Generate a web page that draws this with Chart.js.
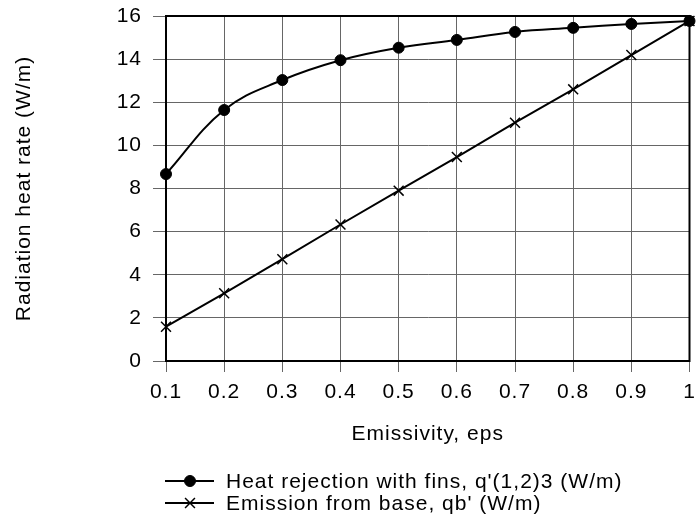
<!DOCTYPE html>
<html>
<head>
<meta charset="utf-8">
<script src="https://cdn.jsdelivr.net/npm/chart.js@4/dist/chart.umd.min.js"></script>
<style>
  html, body { margin: 0; padding: 0; background: #fff; }
  canvas { display: block; }
</style>
</head>
<body>
<canvas id="c" width="698" height="523"></canvas>
<script>
const emissivity = [0.1, 0.2, 0.3, 0.4, 0.5, 0.6, 0.7, 0.8, 0.9, 1.0];
const heatWithFins = [8.67, 11.64, 13.03, 13.95, 14.53, 14.89, 15.26, 15.45, 15.63, 15.77];
const emissionBase = [1.59, 3.14, 4.72, 6.33, 7.90, 9.46, 11.05, 12.60, 14.19, 15.77];
const xTickLabels = ['0.1', '0.2', '0.3', '0.4', '0.5', '0.6', '0.7', '0.8', '0.9', '1'];
const yTickLabels = ['0', '2', '4', '6', '8', '10', '12', '14', '16'];
const seriesNames = ["Heat rejection with fins, q'(1,2)3 (W/m)", "Emission from base, qb' (W/m)"];
const xTitle = 'Emissivity, eps';
const yTitle = 'Radiation heat rate (W/m)';

const FONT = "'Liberation Sans', Arial, sans-serif";
const SPACING = '1px';

const spacingPlugin = {
  id: 'spacing',
  beforeUpdate(chart) { chart.ctx.letterSpacing = SPACING; },
  beforeDraw(chart) { chart.ctx.letterSpacing = SPACING; }
};

const framePlugin = {
  id: 'frame',
  beforeDatasetsDraw(chart) {
    const { ctx, chartArea: a } = chart;
    ctx.save();
    ctx.strokeStyle = '#000';
    ctx.lineWidth = 2;
    ctx.strokeRect(a.left, a.top, a.right - a.left, a.bottom - a.top);
    ctx.restore();
  }
};

const legendPlugin = {
  id: 'customLegend',
  afterDraw(chart) {
    const { ctx } = chart;
    const rows = [481, 503];
    ctx.save();
    ctx.letterSpacing = SPACING;
    chart.data.datasets.forEach((ds, i) => {
      const y = rows[i];
      ctx.strokeStyle = '#000';
      ctx.lineWidth = 2;
      ctx.beginPath();
      ctx.moveTo(165, y);
      ctx.lineTo(214, y);
      ctx.stroke();
      ctx.fillStyle = '#000';
      ctx.lineWidth = ds.pointBorderWidth;
      Chart.helpers.drawPoint(ctx, {
        pointStyle: ds.pointStyle,
        radius: ds.pointRadius,
        rotation: 0,
        borderWidth: ds.pointBorderWidth
      }, 190, y);
      ctx.fillStyle = '#000';
      ctx.font = '21px ' + FONT;
      ctx.textBaseline = 'middle';
      ctx.textAlign = 'left';
      ctx.fillText(ds.label, 226, y + 1);
    });
    ctx.restore();
  }
};

new Chart(document.getElementById('c'), {
  type: 'line',
  data: {
    datasets: [
      {
        label: seriesNames[0],
        data: emissivity.map((x, i) => ({ x, y: heatWithFins[i] })),
        borderColor: '#000',
        backgroundColor: '#000',
        borderWidth: 2,
        pointStyle: 'circle',
        pointRadius: 5.5,
        pointBorderWidth: 1,
        pointBackgroundColor: '#000',
        pointBorderColor: '#000',
        tension: 0.4,
        fill: false
      },
      {
        label: seriesNames[1],
        data: emissivity.map((x, i) => ({ x, y: emissionBase[i] })),
        borderColor: '#000',
        backgroundColor: '#000',
        borderWidth: 2,
        pointStyle: 'crossRot',
        pointRadius: 7,
        pointBorderWidth: 1.5,
        pointBorderColor: '#000',
        tension: 0,
        fill: false
      }
    ]
  },
  options: {
    responsive: false,
    animation: false,
    devicePixelRatio: 1,
    clip: false,
    layout: { padding: { left: 0, right: 2, top: 16, bottom: 62 } },
    plugins: {
      legend: { display: false },
      tooltip: { enabled: false }
    },
    scales: {
      x: {
        type: 'linear',
        min: 0.1,
        max: 1,
        afterBuildTicks(scale) {
          scale.ticks = emissivity.map(v => ({ value: v }));
        },
        afterFit(scale) {
          scale.height = 100;
          scale.paddingLeft = 0;
          scale.paddingRight = 0;
        },
        grid: { color: '#666666', lineWidth: 1, tickLength: 11, drawTicks: true },
        border: { display: true, color: '#000', width: 2 },
        ticks: {
          color: '#000',
          font: { family: FONT, size: 21 },
          padding: 8,
          maxRotation: 0,
          autoSkip: false,
          callback: (v, i) => xTickLabels[i]
        },
        title: {
          display: true,
          text: xTitle,
          color: '#000',
          font: { family: FONT, size: 21 },
          padding: { top: 0, bottom: 14 }
        }
      },
      y: {
        type: 'linear',
        min: 0,
        max: 16,
        afterBuildTicks(scale) {
          scale.ticks = yTickLabels.map(t => ({ value: Number(t) }));
        },
        afterFit(scale) {
          scale.width = 166;
          scale.paddingTop = 0;
          scale.paddingBottom = 0;
        },
        grid: { color: '#666666', lineWidth: 1, tickLength: 13, drawTicks: true },
        border: { display: true, color: '#000', width: 2 },
        ticks: {
          color: '#000',
          font: { family: FONT, size: 21 },
          padding: 11,
          autoSkip: false,
          callback: (v, i) => yTickLabels[i]
        },
        title: {
          display: true,
          text: yTitle,
          color: '#000',
          font: { family: FONT, size: 21 },
          padding: { top: 12, bottom: 0 }
        }
      }
    }
  },
  plugins: [spacingPlugin, framePlugin, legendPlugin]
});
</script>
</body>
</html>
